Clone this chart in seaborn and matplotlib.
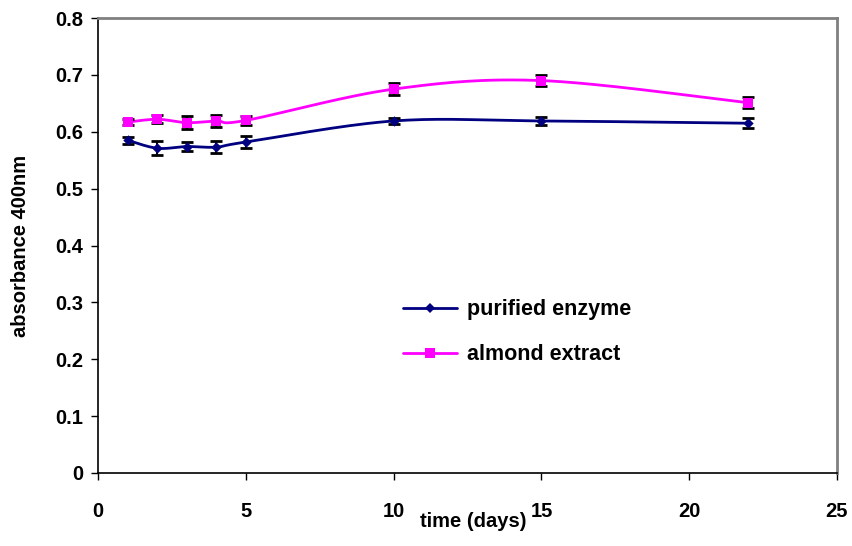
import numpy as np
import pandas as pd
import matplotlib
matplotlib.use("Agg")
import matplotlib.pyplot as plt
import seaborn as sns
from matplotlib.lines import Line2D

days = [1, 2, 3, 4, 5, 10, 15, 22]
purified = [0.585, 0.571, 0.574, 0.573, 0.582, 0.619, 0.619, 0.615]
purified_err = [0.006, 0.012, 0.008, 0.010, 0.011, 0.006, 0.007, 0.009]
almond = [0.617, 0.622, 0.616, 0.619, 0.620, 0.675, 0.690, 0.651]
almond_err = [0.005, 0.007, 0.012, 0.010, 0.008, 0.010, 0.010, 0.010]
series_names = ["purified enzyme", "almond extract"]
x_ticks = [0, 5, 10, 15, 20, 25]
y_ticks = [0, 0.1, 0.2, 0.3, 0.4, 0.5, 0.6, 0.7, 0.8]

sns.set_style("white")
plt.rcParams['font.family'] = ['Liberation Sans', 'DejaVu Sans']
plt.rcParams['font.weight'] = 'bold'
plt.rcParams['text.color'] = 'black'
plt.rcParams['axes.labelcolor'] = 'black'
plt.rcParams['xtick.color'] = 'black'
plt.rcParams['ytick.color'] = 'black'

FS = 14.5

fig = plt.figure(figsize=(8.53, 5.46), dpi=100)
ax = fig.add_axes([0.1152, 0.1337, 0.8660, 0.8333])


def smooth(x, y, n=30):
    # Catmull-Rom style smoothing (as spreadsheet "smoothed line")
    x = np.asarray(x, float)
    y = np.asarray(y, float)
    P = np.column_stack([x, y])
    P = np.vstack([P[0], P, P[-1]])
    out = []
    t = np.linspace(0, 1, n)
    for i in range(1, len(P) - 2):
        p0, p1, p2, p3 = P[i - 1], P[i], P[i + 1], P[i + 2]
        c1 = p1 + (p2 - p0) / 6
        c2 = p2 - (p3 - p1) / 6
        b = ((1 - t) ** 3)[:, None] * p1 + (3 * (1 - t) ** 2 * t)[:, None] * c1 \
            + (3 * (1 - t) * t ** 2)[:, None] * c2 + (t ** 3)[:, None] * p2
        out.append(b)
    out = np.vstack(out)
    return out[:, 0], out[:, 1]


df = pd.DataFrame({"day": days * 2,
                   "value": purified + almond,
                   "series": [series_names[0]] * len(days) + [series_names[1]] * len(days)})

colors = {series_names[0]: "#000080", series_names[1]: "#FF00FF"}

for name, vals, errs in [(series_names[0], purified, purified_err), (series_names[1], almond, almond_err)]:
    sx, sy = smooth(days, vals)
    ax.plot(sx, sy, color=colors[name], lw=2.0, zorder=2)
    ax.errorbar(days, vals, yerr=errs, fmt='none', ecolor='black', elinewidth=1.5,
                capsize=4.0, capthick=2, zorder=3)

sns.scatterplot(data=df[df.series == series_names[0]], x="day", y="value",
                color=colors[series_names[0]], marker="D", s=28, linewidth=0, ax=ax,
                legend=False, zorder=4)
sns.scatterplot(data=df[df.series == series_names[1]], x="day", y="value",
                color=colors[series_names[1]], marker="s", s=42, linewidth=0, ax=ax,
                legend=False, zorder=4)

ax.set_xlim(0, 25)
ax.set_ylim(0, 0.8)
ax.set_xticks(x_ticks)
ax.set_yticks(y_ticks)
ax.set_xticklabels([str(v) for v in x_ticks])
ax.set_yticklabels(["0" if v == 0 else f"{v:.1f}" for v in y_ticks])
ax.tick_params(axis='both', which='major', direction='out', length=5, width=1,
               color='black', labelsize=FS, bottom=True, left=True, labelcolor='black')
ax.tick_params(axis='x', pad=16)
ax.tick_params(axis='y', pad=6)
for lab in ax.get_xticklabels() + ax.get_yticklabels():
    lab.set_fontweight('bold')

for side in ['left', 'bottom']:
    ax.spines[side].set_color('black')
    ax.spines[side].set_linewidth(1.2)
for side in ['top', 'right']:
    ax.spines[side].set_color('#808080')
    ax.spines[side].set_linewidth(2)

ax.set_xlabel("time (days)", fontsize=FS, fontweight='bold', color='black')
ax.set_ylabel("absorbance 400nm", fontsize=FS, fontweight='bold', color='black')
ax.xaxis.set_label_coords(0.507, -0.086)
ax.yaxis.set_label_coords(-0.093, 0.5)

handles = [Line2D([0], [0], color=colors[series_names[0]], lw=2, marker="D",
                  markersize=5.5, markeredgewidth=0),
           Line2D([0], [0], color=colors[series_names[1]], lw=2, marker="s",
                  markersize=6.5, markeredgewidth=0)]
leg = ax.legend(handles, series_names, loc='upper left', bbox_to_anchor=(0.413, 0.382),
                frameon=False, handlelength=2.5, handletextpad=0.45, labelspacing=1.12,
                borderpad=0, borderaxespad=0, prop={'size': FS + 1, 'weight': 'bold'})

fig.savefig("out.png", dpi=100)
